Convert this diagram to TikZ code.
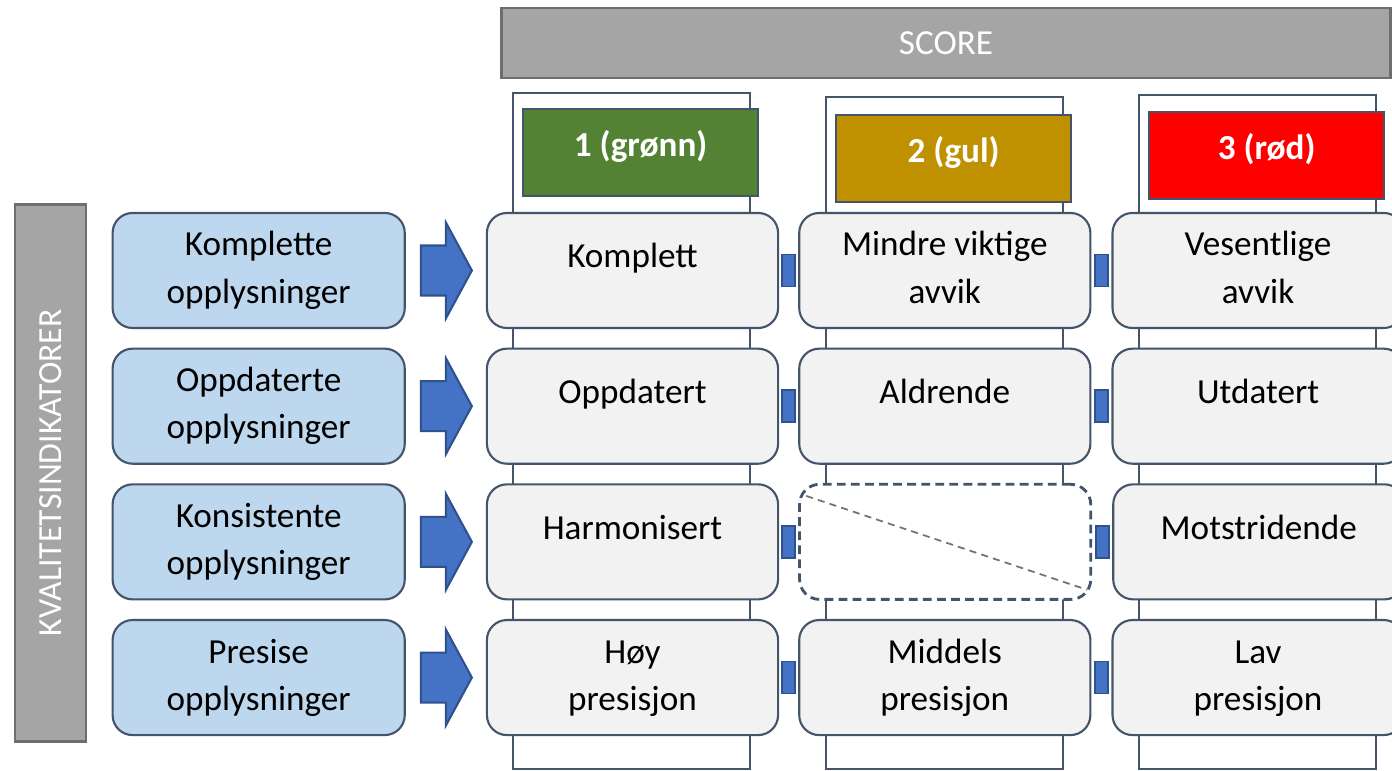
\documentclass[tikz,border=0pt]{standalone}
\usepackage{fontspec}
\setmainfont{Carlito}
\usetikzlibrary{positioning,calc}

\definecolor{edgegray}{RGB}{68,84,106}
\definecolor{cellfill}{RGB}{242,242,242}
\definecolor{indfill}{RGB}{189,215,238}
\definecolor{arrowblue}{RGB}{68,114,196}
\definecolor{arrowedge}{RGB}{47,82,143}
\definecolor{barfill}{RGB}{165,165,165}
\definecolor{baredge}{RGB}{110,110,110}
\definecolor{scoregreen}{RGB}{84,130,53}
\definecolor{scoregold}{RGB}{191,144,0}
\definecolor{scorered}{RGB}{255,0,0}

\tikzset{
  txt/.style={font=\fontsize{10}{13.37}\selectfont, align=center, inner sep=0pt},
  twoline/.style={txt, text height=18.5pt, text depth=0pt},
  oneline/.style={txt, text height=7pt, text depth=8.42pt},
  indbox/.style={draw=edgegray, fill=indfill, line width=0.6pt, rounded corners=0.2cm, minimum width=2.92cm, minimum height=1.15cm},
  cellbox/.style={draw=edgegray, fill=cellfill, line width=0.6pt, rounded corners=0.2cm, minimum width=2.91cm, minimum height=1.15cm},
  emptybox/.style={cellbox, fill=white, line width=0.8pt, dash pattern=on 2.5pt off 1.5pt},
  colback/.style={draw=edgegray, fill=white, line width=0.6pt},
  header/.style={draw=edgegray, line width=0.6pt, text=white, font=\bfseries\fontsize{10}{12}\selectfont, minimum width=2.35cm, minimum height=0.87cm, inner sep=0pt, text height=7pt, text depth=5pt},
  bar/.style={draw=baredge, fill=barfill, line width=0.8pt, text=white, inner sep=0pt},
  link/.style={draw=arrowedge, fill=arrowblue, line width=0.5pt, minimum width=0.13cm, minimum height=0.32cm, inner sep=0pt},
  blockarrow/.style={draw=arrowedge, fill=arrowblue, line width=0.6pt},
  diag/.style={draw=gray!90!black, line width=0.5pt, dash pattern=on 2pt off 1.5pt}
}

\begin{document}
\begin{tikzpicture}[x=0.01cm, y=-0.01cm]
  \clip (0,0) rectangle (1392,771);
  \fill[white] (0,0) rectangle (1392,771);

  % title bars
  \node[bar, minimum width=8.88cm, minimum height=0.70cm, font=\fontsize{10}{12}\selectfont] (score) at (946,43) {SCORE};
  \node[bar, rotate=90, minimum width=5.36cm, minimum height=0.71cm, font=\fontsize{9.6}{11}\selectfont] (indbar) at (50.5,473) {KVALITETSINDIKATORER};

  % score columns
  \foreach \x/\top/\htop/\col/\lab [count=\k] in {487/93/108/scoregreen/{1 (grønn)}, 800/97/114/scoregold/{2 (gul)}, 1113/95/111/scorered/{3 (rød)}}{
    \draw[colback] (\x+26,\top) rectangle (\x+263,769);
    \node[header, fill=\col, anchor=north west] (h\k) at (\x+35,\htop) {\lab};
  }

  % row 1
  \node[cellbox, oneline] (c11) at (632.5,270.5) {Komplett};
  \node[cellbox, twoline, right=0.19cm of c11] (c12) {Mindre viktige\\avvik};
  \node[cellbox, twoline, right=0.2cm of c12] (c13) {Vesentlige\\avvik};
  \node[indbox, twoline, left=0.8cm of c11] (i1) {Komplette\\opplysninger};

  % row 2
  \node[cellbox, oneline, below=0.185cm of c11] (c21) {Oppdatert};
  \node[cellbox, oneline, right=0.19cm of c21] (c22) {Aldrende};
  \node[cellbox, oneline, right=0.2cm of c22] (c23) {Utdatert};
  \node[indbox, twoline, left=0.8cm of c21] (i2) {Oppdaterte\\opplysninger};

  % row 3
  \node[cellbox, oneline, below=0.185cm of c21] (c31) {Harmonisert};
  \node[emptybox, right=0.19cm of c31] (c32) {};
  \node[cellbox, oneline, right=0.2cm of c32] (c33) {Motstridende};
  \node[indbox, twoline, left=0.8cm of c31] (i3) {Konsistente\\opplysninger};
  \draw[diag] ($(c32.north west)+(8,13)$) -- ($(c32.south east)+(-5,-11)$);

  % row 4
  \node[cellbox, twoline, below=0.185cm of c31] (c41) {Høy\\presisjon};
  \node[cellbox, twoline, right=0.19cm of c41] (c42) {Middels\\presisjon};
  \node[cellbox, twoline, right=0.2cm of c42] (c43) {Lav\\presisjon};
  \node[indbox, twoline, left=0.8cm of c41] (i4) {Presise\\opplysninger};

  % links and arrows
  \foreach \r in {1,...,4}{
    \node[link] (la\r) at ($(c\r1.east)!0.5!(c\r2.west)$) {};
    \node[link] (lb\r) at ($(c\r2.east)!0.5!(c\r3.west)$) {};
    \coordinate (a\r) at ($(i\r.east)!0.5!(c\r1.west)$);
    \draw[blockarrow, shift={(a\r)}] (-25,-25) -- (0,-25) -- (0,-48) -- (26,0) -- (0,48) -- (0,25) -- (-25,25) -- cycle;
  }

\end{tikzpicture}
\end{document}
